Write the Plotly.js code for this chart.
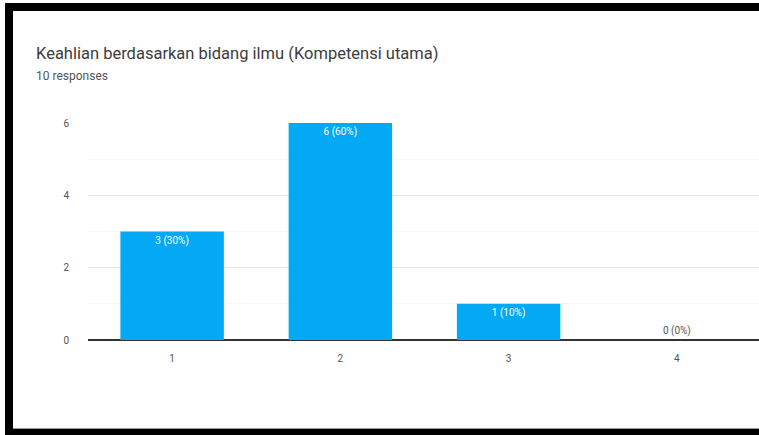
<!DOCTYPE html>
<html>
<head>
<meta charset="utf-8">
<script src="https://cdn.plot.ly/plotly-3.0.1.min.js"></script>
<style>
  html, body { margin: 0; padding: 0; background: #fff; overflow: hidden; width: 759px; height: 435px; }
  #chart { position: absolute; left: 0; top: 0; }
  .bd { position: absolute; background: #000; }
</style>
</head>
<body>
<div id="chart"></div>
<div class="bd" style="left:5px; top:3px; width:754px; height:8px;"></div>
<div class="bd" style="left:5px; top:3px; width:8px; height:432px;"></div>
<div class="bd" style="left:5px; top:429px; width:754px; height:6px;"></div>
<div style="position:absolute; left:13px; top:428px; width:746px; height:1px; background:#999;"></div>
<script>
// ---- data ----
const categories = ['1', '2', '3', '4'];
const counts = [3, 6, 1, 0];
const percents = ['30%', '60%', '10%', '0%'];
const yTicks = [0, 2, 4, 6];
const chartTitle = 'Keahlian berdasarkan bidang ilmu (Kompetensi utama)';
const subtitle = '10 responses';

// ---- layout helpers ----
const W = 761, H = 435;
const M = { l: 88, r: 0, t: 123, b: 95 };
const plotW = W - M.l - M.r, plotH = H - M.t - M.b;
const px2x = p => (p - M.l) / plotW;
const py2y = p => (H - M.b - p) / plotH;

const labels = counts.map((c, i) => c + ' (' + percents[i] + ')');
const positions = counts.map(c => c > 0 ? 'inside' : 'outside');

const trace = {
  type: 'bar',
  x: categories,
  y: counts,
  text: labels,
  textposition: positions,
  insidetextanchor: 'end',
  insidetextfont: { color: '#ffffff', size: 10, family: 'Roboto, Arial, sans-serif' },
  outsidetextfont: { color: '#555555', size: 10, family: 'Roboto, Arial, sans-serif' },
  textangle: 0,
  cliponaxis: false,
  marker: { color: '#03a9f4', line: { width: 0 } },
  width: 0.615,
  hoverinfo: 'none'
};

const layout = {
  width: W,
  height: H,
  margin: M,
  paper_bgcolor: '#ffffff',
  plot_bgcolor: '#ffffff',
  showlegend: false,
  font: { family: 'Roboto, Arial, sans-serif', color: '#555555', size: 10 },
  xaxis: {
    type: 'category',
    range: [-0.5, 3.5],
    showgrid: false,
    showline: false,
    zeroline: false,
    ticks: 'outside',
    ticklen: 9,
    tickcolor: 'rgba(0,0,0,0)',
    tickfont: { size: 10, color: '#555555' },
    fixedrange: true
  },
  yaxis: {
    range: [0, 6],
    tickvals: yTicks,
    ticktext: yTicks.map(String),
    showgrid: true,
    gridcolor: '#e6e6e6',
    gridwidth: 1,
    minor: { dtick: 1, tick0: 0, showgrid: true, gridcolor: '#f4f4f4', gridwidth: 1 },
    zeroline: true,
    zerolinecolor: '#333333',
    zerolinewidth: 1.5,
    showline: false,
    ticks: 'outside',
    ticklen: 16,
    tickcolor: 'rgba(0,0,0,0)',
    tickfont: { size: 10, color: '#555555' },
    fixedrange: true
  },
  annotations: [
    {
      text: chartTitle,
      xref: 'paper', yref: 'paper',
      x: px2x(34), y: py2y(53),
      xanchor: 'left', yanchor: 'middle',
      showarrow: false,
      font: { size: 16.5, color: '#3c3c3c', family: 'Roboto, Arial, sans-serif' }
    },
    {
      text: subtitle,
      xref: 'paper', yref: 'paper',
      x: px2x(34), y: py2y(76),
      xanchor: 'left', yanchor: 'middle',
      showarrow: false,
      font: { size: 12, color: '#555555', family: 'Roboto, Arial, sans-serif' }
    }
  ]
};

Plotly.newPlot('chart', [trace], layout, { displayModeBar: false, staticPlot: true });
</script>
</body>
</html>
